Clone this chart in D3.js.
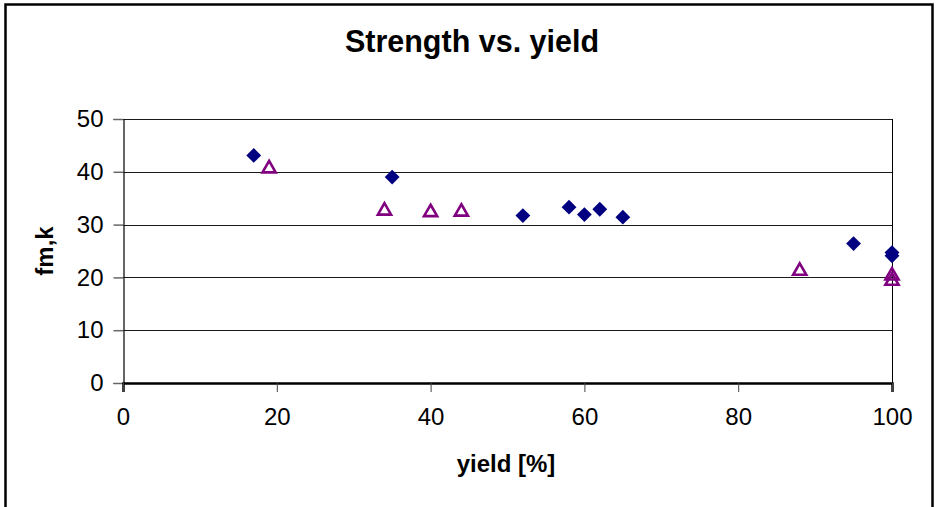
<!DOCTYPE html>
<html>
<head>
<meta charset="utf-8">
<script src="https://cdn.jsdelivr.net/npm/d3@7"></script>
<style>
  html, body { margin: 0; padding: 0; background: #fff; }
  svg { display: block; }
  text { font-family: "Liberation Sans", Arial, sans-serif; fill: #000; }
</style>
</head>
<body>
<svg id="chart" width="937" height="507"></svg>
<script>
// Series A: filled navy diamonds
const seriesAYield = [17, 35, 52, 58, 60, 62, 65, 95, 100, 100];
const seriesAStrength = [43.1, 39.0, 31.7, 33.3, 31.9, 32.9, 31.4, 26.4, 24.7, 24.1];
// Series B: open purple triangles
const seriesBYield = [19, 34, 40, 44, 88, 100, 100];
const seriesBStrength = [40.9, 32.9, 32.6, 32.7, 21.5, 20.6, 19.6];

const xTicks = [0, 20, 40, 60, 80, 100];
const yTicks = [0, 10, 20, 30, 40, 50];

const titleText = "Strength vs. yield";
const xLabel = "yield [%]";
const yLabel = "fm,k";

const svg = d3.select("#chart");
const W = 937, H = 507;
const plot = { left: 123, right: 892, top: 119, bottom: 383 };

// Outer chart frame
svg.append("rect")
  .attr("x", 5.5).attr("y", 4.5)
  .attr("width", 927).attr("height", 510)
  .attr("fill", "#fff")
  .attr("stroke", "#000").attr("stroke-width", 2.5);

const x = d3.scaleLinear().domain([0, 100]).range([plot.left, plot.right]);
const y = d3.scaleLinear().domain([0, 50]).range([plot.bottom, plot.top]);

// Horizontal gridlines
svg.append("g")
  .selectAll("line")
  .data(yTicks.filter(v => v > 0))
  .join("line")
  .attr("x1", plot.left).attr("x2", plot.right)
  .attr("y1", d => Math.round(y(d)) + 0.5).attr("y2", d => Math.round(y(d)) + 0.5)
  .attr("stroke", "#1a1a1a").attr("stroke-width", 1);

// Right border of the plot area
svg.append("line")
  .attr("x1", plot.right + 0.5).attr("x2", plot.right + 0.5)
  .attr("y1", plot.top).attr("y2", plot.bottom)
  .attr("stroke", "#000").attr("stroke-width", 1);

// Y axis
const yAxis = svg.append("g")
  .attr("transform", `translate(${plot.left + 0.5},0)`)
  .call(d3.axisLeft(y).tickValues(yTicks).tickSize(10).tickPadding(10).tickFormat(d3.format("d")));
yAxis.select(".domain").attr("stroke", "#000").attr("stroke-width", 1.2);
yAxis.selectAll(".tick line").attr("stroke", "#666").attr("stroke-width", 1.5);
yAxis.selectAll(".tick text")
  .attr("font-size", 24)
  .attr("font-family", "Liberation Sans, Arial, sans-serif")
  .attr("fill", "#000");

// X axis
const xAxis = svg.append("g")
  .attr("transform", `translate(0,${plot.bottom})`)
  .call(d3.axisBottom(x).tickValues(xTicks).tickSize(9).tickPadding(16).tickFormat(d3.format("d")));
xAxis.select(".domain").attr("stroke", "#000").attr("stroke-width", 2.5);
xAxis.selectAll(".tick line").attr("stroke", "#444").attr("stroke-width", 1);
xAxis.selectAll(".tick text")
  .attr("font-size", 24)
  .attr("font-family", "Liberation Sans, Arial, sans-serif")
  .attr("fill", "#000");

// Markers
const diamond = d3.symbol().type(d3.symbolSquare).size(110);
svg.append("g")
  .selectAll("path")
  .data(d3.zip(seriesAYield, seriesAStrength))
  .join("path")
  .attr("d", diamond)
  .attr("transform", d => `translate(${x(d[0])},${y(d[1])}) rotate(45)`)
  .attr("fill", "#000080");

const tri = d3.symbol().type(d3.symbolTriangle).size(75);
svg.append("g")
  .selectAll("path")
  .data(d3.zip(seriesBYield, seriesBStrength))
  .join("path")
  .attr("d", tri)
  .attr("transform", d => `translate(${x(d[0])},${y(d[1]) + 1.5})`)
  .attr("fill", "none")
  .attr("stroke", "#800080")
  .attr("stroke-width", 2.6);

// Title and axis titles
svg.append("text")
  .attr("x", 472).attr("y", 52)
  .attr("text-anchor", "middle")
  .attr("font-size", 30.5).attr("font-weight", "bold")
  .text(titleText);

svg.append("text")
  .attr("x", 506).attr("y", 472)
  .attr("text-anchor", "middle")
  .attr("font-size", 24).attr("font-weight", "bold")
  .text(xLabel);

svg.append("text")
  .attr("transform", `translate(53,251) rotate(-90)`)
  .attr("text-anchor", "middle")
  .attr("font-size", 24).attr("font-weight", "bold")
  .text(yLabel);
</script>
</body>
</html>
